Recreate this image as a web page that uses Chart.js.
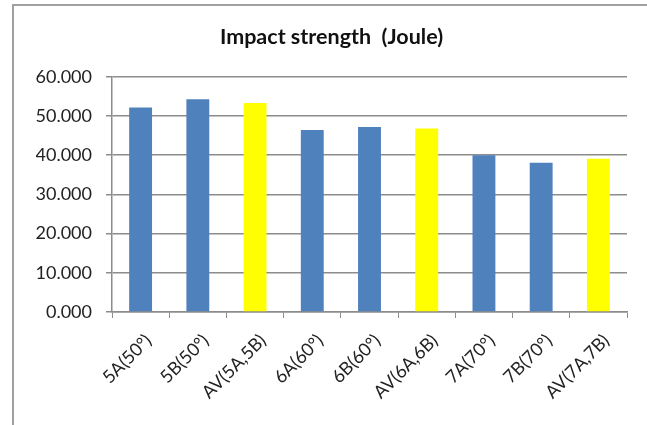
<!DOCTYPE html>
<html>
<head>
<meta charset="utf-8">
<script src="https://cdn.jsdelivr.net/npm/chart.js@4"></script>
<style>
    body { margin: 0; background: #fff; }
    #wrap { position: relative; width: 647px; height: 425px; }
    #frame {
        position: absolute; left: 12px; top: 4px; right: 0; bottom: 0;
        border-top: 2px solid #a0a0a0; border-left: 2px solid #a0a0a0;
        pointer-events: none;
    }
</style>
</head>
<body>
<div id="wrap">
    <canvas id="impatto" width="647" height="425"></canvas>
    <div id="frame"></div>
</div>
<script>
// dati
const categories = [
    "5A(50°)", "5B(50°)", "AV(5A,5B)",
    "6A(60°)", "6B(60°)", "AV(6A,6B)",
    "7A(70°)", "7B(70°)", "AV(7A,7B)",
];
const impactValues = [52.2, 54.3, 53.3, 46.4, 47.2, 46.8, 40.0, 38.1, 39.1];
const isAverage = [false, false, true, false, false, true, false, false, true];
const yTicks = [0, 10, 20, 30, 40, 50, 60];

const BLUE = "#4f81bd";
const YELLOW = "#ffff00";
const FONT = "Lato, 'Open Sans', sans-serif";

new Chart(document.getElementById("impatto"), {
    type: "bar",
    data: {
        labels: categories,
        datasets: [
            {
                data: impactValues,
                backgroundColor: isAverage.map((a) => (a ? YELLOW : BLUE)),
                borderWidth: 0,
                barPercentage: 1,
                categoryPercentage: 0.4,
            },
        ],
    },
    options: {
        responsive: false,
        animation: false,
        layout: {
            // padding sinistro per centrare il titolo come nell'originale
            padding: { top: 0, right: 20, bottom: 0, left: 36 },
        },
        plugins: {
            legend: { display: false },
            tooltip: { enabled: false },
            title: {
                display: true,
                text: "Impact strength  (Joule)",
                color: "#111",
                font: { family: FONT, size: 21.5, weight: "bold" },
                padding: { top: 24, bottom: 27 },
            },
        },
        scales: {
            x: {
                offset: true,
                grid: {
                    offset: true,
                    drawOnChartArea: false,
                    drawTicks: true,
                    tickLength: 6,
                    color: "#8c8c8c",
                },
                border: { color: "#8c8c8c", width: 1.5 },
                ticks: {
                    minRotation: 45,
                    maxRotation: 45,
                    color: "#222",
                    padding: 12,
                    labelOffset: 8,
                    font: { family: FONT, size: 18 },
                },
                afterFit: (scale) => {
                    scale.height = 113;
                },
            },
            y: {
                min: 0,
                max: 60,
                afterBuildTicks: (scale) => {
                    scale.ticks = yTicks.map((v) => ({ value: v }));
                },
                grid: {
                    color: "#8c8c8c",
                    lineWidth: 1.5,
                    tickLength: 6,
                },
                border: { color: "#8c8c8c", width: 1.5 },
                ticks: {
                    color: "#222",
                    padding: 14,
                    font: { family: FONT, size: 18 },
                    callback: (v) => v.toFixed(3),
                },
                afterFit: (scale) => {
                    scale.width = 76;
                },
            },
        },
    },
});
</script>
</body>
</html>
